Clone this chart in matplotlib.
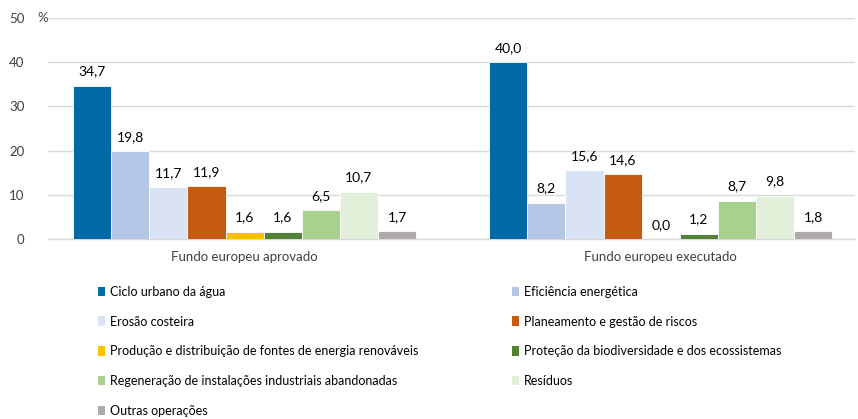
import numpy as np
import matplotlib.pyplot as plt
from matplotlib.patches import Patch

plt.rcParams['font.family'] = ['Lato', 'DejaVu Sans']

groups = ['Fundo europeu aprovado', 'Fundo europeu executado']
categories = ['Ciclo urbano da água', 'Eficiência energética', 'Erosão costeira',
              'Planeamento e gestão de riscos',
              'Produção e distribuição de fontes de energia renováveis',
              'Proteção da biodiversidade e dos ecossistemas',
              'Regeneração de instalações industriais abandonadas', 'Resíduos',
              'Outras operações']
aprovado = [34.7, 19.8, 11.7, 11.9, 1.6, 1.6, 6.5, 10.7, 1.7]
executado = [40.0, 8.2, 15.6, 14.6, 0.0, 1.2, 8.7, 9.8, 1.8]
colors = ['#006AA6', '#B4C7E7', '#DAE3F3', '#C55A11', '#FFC000',
          '#538135', '#A9D18E', '#E2F0D9', '#AEAAAA']

fig = plt.figure(figsize=(8.58, 4.19), dpi=100)
ax = fig.add_axes([0.056, 0.4296, 0.9405, 0.5275])

offsets = [0.0, 10.92]
for g, vals in enumerate([aprovado, executado]):
    for i, v in enumerate(vals):
        x = offsets[g] + i + 0.5
        ax.bar(x, v, width=1.0, color=colors[i], edgecolor='white', linewidth=0.6, zorder=3)
        ax.annotate(('%.1f' % v).replace('.', ','), (x, v), xytext=(0, 6),
                    textcoords='offset points', ha='center', va='bottom',
                    fontsize=10, color='#000000')

ax.set_xlim(-0.66, 20.52)
ax.set_ylim(0, 50)
ax.set_yticks(range(0, 51, 10))
ax.tick_params(axis='y', length=0, labelsize=9.5, labelcolor='#404040', pad=17)
ax.set_xticks([offsets[0] + 4.5, offsets[1] + 4.5])
ax.set_xticklabels(groups)
ax.tick_params(axis='x', length=0, labelsize=9.5, labelcolor='#404040', pad=9)
ax.yaxis.grid(True, color='#D9D9D9', linewidth=1, zorder=0)
for s in ['top', 'right', 'left']:
    ax.spines[s].set_visible(False)
ax.spines['bottom'].set_color('#D9D9D9')
ax.spines['bottom'].set_linewidth(1)
fig.text(0.043, 0.957, '%', fontsize=9.5, color='#404040', ha='left', va='center')

handles = [Patch(facecolor=c, edgecolor='none') for c in colors]
order = [0, 2, 4, 6, 8, 1, 3, 5, 7]
fig.legend([handles[i] for i in order], [categories[i] for i in order],
           ncol=2, loc='upper left', bbox_to_anchor=(0.114, 0.318), frameon=False,
           fontsize=9, handlelength=0.6, handleheight=0.8, handletextpad=0.35,
           labelspacing=1.42, columnspacing=7.5, borderaxespad=0, borderpad=0)

fig.savefig('out.png', dpi=100)
